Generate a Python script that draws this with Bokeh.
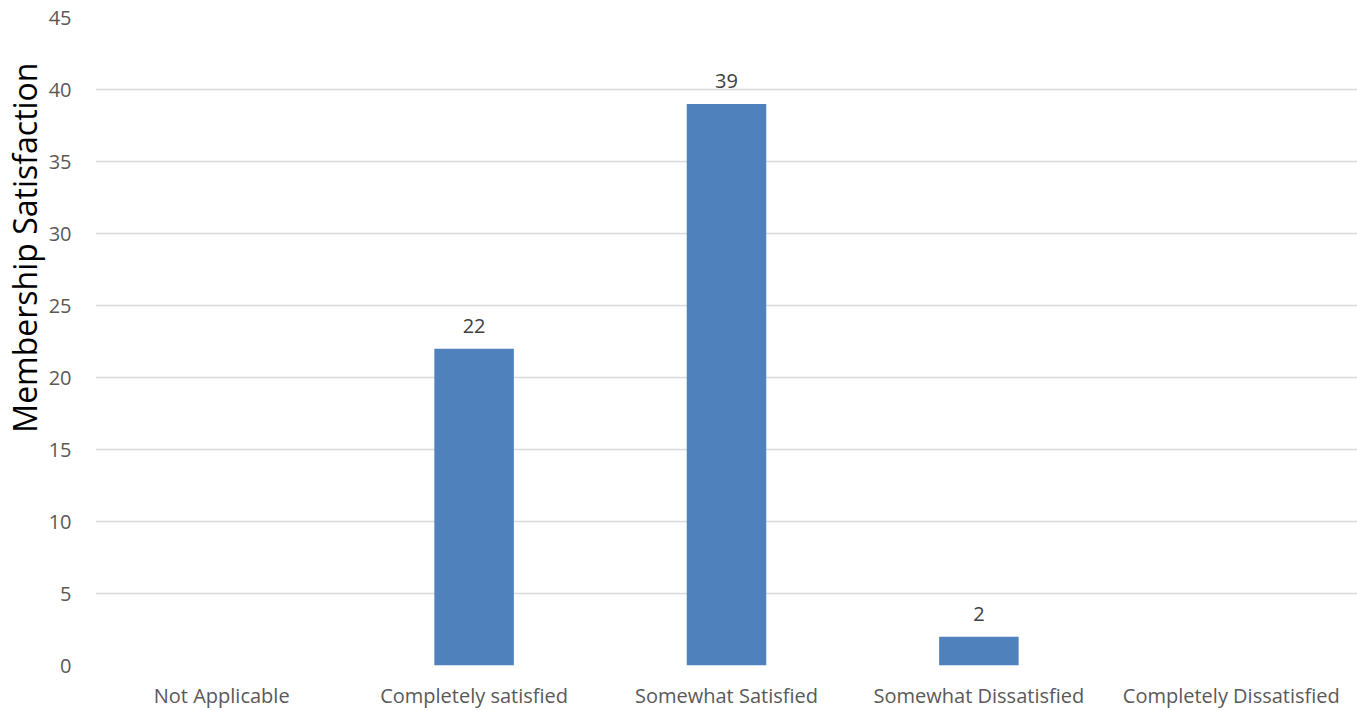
from bokeh.plotting import figure
from bokeh.models import ColumnDataSource, Title, Range1d, FixedTicker
from bokeh.core.properties import value
from bokeh.embed import file_html
from bokeh.resources import INLINE

categories = ["Not Applicable", "Completely satisfied", "Somewhat Satisfied",
              "Somewhat Dissatisfied", "Completely Dissatisfied"]
counts = [0, 22, 39, 2, 0]
y_ticks = [0, 5, 10, 15, 20, 25, 30, 35, 40, 45]
y_label = "Membership Satisfaction"

FONT = "Open Sans"

p = figure(x_range=categories, y_range=Range1d(0, 45), width=1357, height=711,
           output_backend="svg", toolbar_location=None,
           min_border_left=90, min_border_right=0, min_border_top=17, min_border_bottom=40)
p.outline_line_color = None
p.background_fill_color = "white"
p.border_fill_color = "white"

src = ColumnDataSource(dict(cat=categories, val=counts))
p.vbar(x="cat", top="val", width=0.315, source=src, color="#4f81bd", line_color=None)

lab_cats = [c for c, v in zip(categories, counts) if v > 0]
lab_vals = [v for v in counts if v > 0]
lsrc = ColumnDataSource(dict(cat=lab_cats, val=lab_vals, txt=[str(v) for v in lab_vals]))
p.text(x="cat", y="val", text="txt", source=lsrc, text_align="center",
       text_baseline="bottom", y_offset=-16, text_color="#404040",
       text_font=value(FONT), text_font_size="20px")

p.xgrid.grid_line_color = None
p.ygrid.grid_line_color = "#d9d9d9"
p.ygrid.grid_line_width = 1.5
p.yaxis.ticker = FixedTicker(ticks=y_ticks)
for ax in (p.xaxis, p.yaxis):
    ax.axis_line_color = None
    ax.major_tick_line_color = None
    ax.minor_tick_line_color = None
    ax.major_label_text_color = "#595959"
    ax.major_label_text_font = FONT
    ax.major_label_text_font_size = "20px"
p.yaxis.major_label_standoff = 18
p.xaxis.major_label_standoff = 10

p.add_layout(Title(text=y_label, align="right", offset=45, standoff=0,
                   text_font=FONT, text_font_size="32px", text_font_style="normal",
                   text_color="black"), "left")

open("out.html", "w").write(file_html(p, INLINE))
